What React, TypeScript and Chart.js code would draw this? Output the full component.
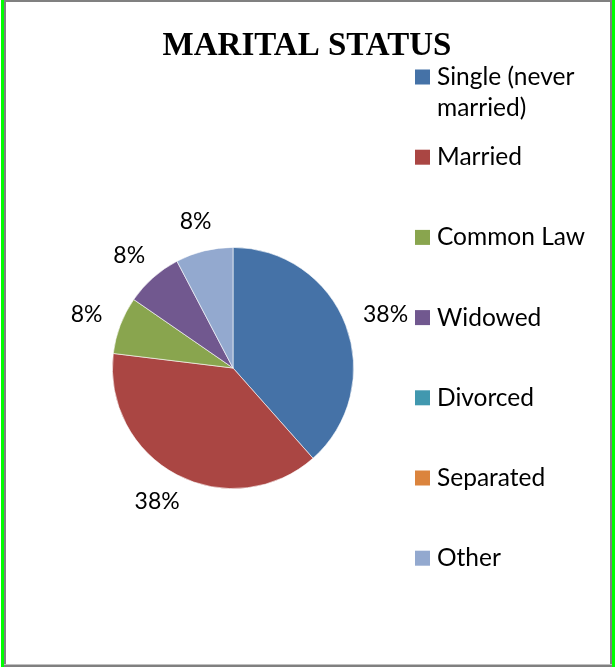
import React, { useEffect, useRef } from "react";
import { Chart, registerables } from "chart.js";

Chart.register(...registerables);

const TITLE = "MARITAL STATUS";
const categories = [
  "Single (never married)",
  "Married",
  "Common Law",
  "Widowed",
  "Divorced",
  "Separated",
  "Other",
];
const counts = [5, 5, 1, 1, 0, 0, 1];
const colors = ["#4572A7", "#AA4643", "#89A54E", "#71588F", "#4198AF", "#DB843D", "#93A9CF"];

const W = 615;
const H = 667;
const LABEL_FONT = '23px Lato';
const LEGEND_FONT = '24.5px Lato';

const decorPlugin = {
  id: "decor",
  afterDatasetsDraw(chart: any) {
    const ctx = chart.ctx as CanvasRenderingContext2D;
    const meta = chart.getDatasetMeta(0);
    const data = chart.data.datasets[0].data as number[];
    const total = data.reduce((a, b) => a + b, 0);
    ctx.save();
    // title
    ctx.fillStyle = "#000";
    ctx.font = 'bold 33px "Liberation Serif"';
    ctx.textAlign = "center";
    ctx.textBaseline = "alphabetic";
    ctx.fillText(TITLE, 307, 55);

    // percentage labels outside the pie
    ctx.font = LABEL_FONT;
    ctx.textAlign = "center";
    ctx.textBaseline = "middle";
    const gap = 20;
    meta.data.forEach((arc: any, i: number) => {
      const v = data[i];
      if (!v) return;
      const p = arc.getProps(["x", "y", "startAngle", "endAngle", "outerRadius"], true);
      const mid = (p.startAngle + p.endAngle) / 2;
      const dx = Math.cos(mid);
      const dy = Math.sin(mid);
      const txt = Math.round((v / total) * 100) + "%";
      const w = ctx.measureText(txt).width;
      const h = 20;
      const ax = p.x + (p.outerRadius + gap) * dx + (dx * w) / 2;
      const ay = p.y + (p.outerRadius + gap) * dy + (dy * h) / 2;
      ctx.fillText(txt, ax, ay);
    });

    // legend
    const labels = chart.data.labels as string[];
    const bg = chart.data.datasets[0].backgroundColor as string[];
    const sqX = 415;
    const txtX = 437;
    const firstY = 77;
    const step = 80.2;
    const lineH = 31;
    const maxW = 160;
    ctx.font = LEGEND_FONT;
    ctx.textAlign = "left";
    ctx.textBaseline = "middle";
    labels.forEach((lab, i) => {
      const cy = firstY + i * step;
      ctx.fillStyle = bg[i];
      ctx.fillRect(sqX, cy - 7.5, 15, 15);
      ctx.fillStyle = "#000";
      const words = lab.split(" ");
      const lines: string[] = [];
      let cur = "";
      words.forEach((wd) => {
        const t = cur ? cur + " " + wd : wd;
        if (ctx.measureText(t).width > maxW && cur) {
          lines.push(cur);
          cur = wd;
        } else cur = t;
      });
      if (cur) lines.push(cur);
      lines.forEach((ln, k) => ctx.fillText(ln, txtX, cy + k * lineH));
    });
    ctx.restore();
  },
};

export default function App() {
  const ref = useRef<HTMLCanvasElement | null>(null);
  useEffect(() => {
    if (!ref.current) return;
    const chart = new Chart(ref.current, {
      type: "pie",
      data: {
        labels: categories,
        datasets: [
          {
            data: counts,
            backgroundColor: colors,
            borderColor: "rgba(255,255,255,0.8)",
            borderWidth: 0.75,
          },
        ],
      },
      options: {
        responsive: false,
        maintainAspectRatio: false,
        animation: false,
        devicePixelRatio: 1,
        layout: { padding: { left: 112, right: 261, top: 247, bottom: 178 } },
        plugins: {
          legend: { display: false },
          title: { display: false },
          tooltip: { enabled: false },
        },
      },
      plugins: [decorPlugin],
    });
    return () => chart.destroy();
  }, []);

  return (
    <div style={{ position: "absolute", left: 0, top: 0, width: W, height: H, background: "#fff", overflow: "hidden" }}>
      <div style={{ position: "absolute", left: 1, top: 0, width: 3, height: H, background: "#00ff00" }} />
      <div style={{ position: "absolute", left: 612, top: 0, width: 3, height: H, background: "#00ff00" }} />
      <div style={{ position: "absolute", left: 4, top: 0, width: 608, height: 2, background: "#808080" }} />
      <div style={{ position: "absolute", left: 4, top: 0, width: 2, height: H, background: "#808080" }} />
      <div style={{ position: "absolute", left: 610, top: 0, width: 2, height: H, background: "#808080" }} />
      <div style={{ position: "absolute", left: 4, top: 664, width: 608, height: 1, background: "#c0c0c0" }} />
      <div style={{ position: "absolute", left: 4, top: 665, width: 608, height: 2, background: "#808080" }} />
      <canvas ref={ref} width={W} height={H} style={{ position: "absolute", left: 0, top: 0, display: "block" }} />
    </div>
  );
}
